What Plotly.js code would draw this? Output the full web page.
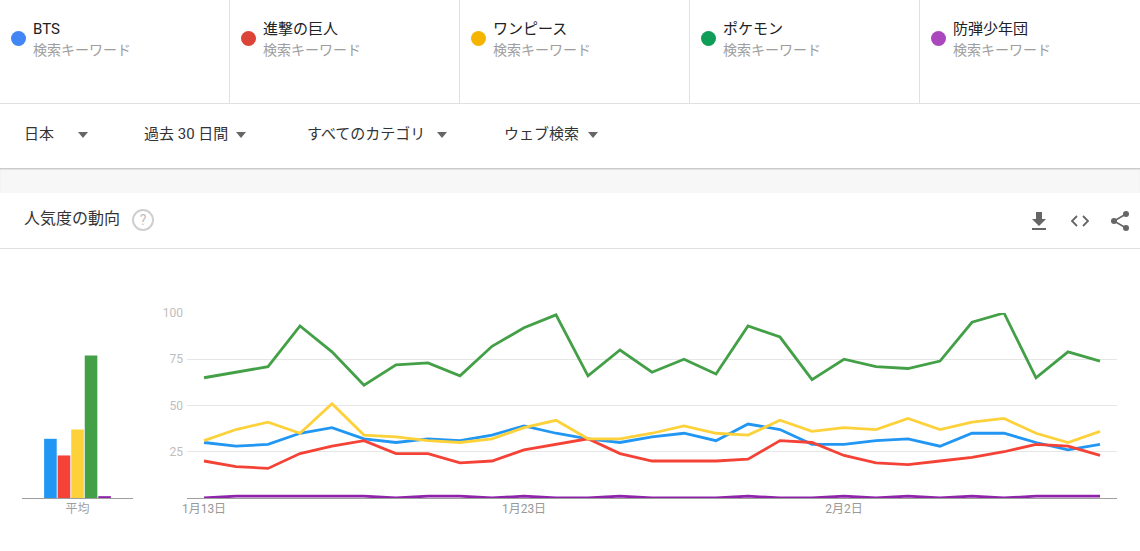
<!DOCTYPE html>
<html><head><meta charset="utf-8">
<script src="https://cdn.plot.ly/plotly-3.0.1.min.js"></script>
<style>
html,body{margin:0;padding:0;width:1140px;height:551px;overflow:hidden;background:#fff;font-family:Roboto,"Noto Sans CJK JP",sans-serif;}
.abs{position:absolute;}
.col{position:absolute;top:0;height:103px;width:230px;}
.sep{position:absolute;top:0;width:1px;height:103px;background:#e0e0e0;}
.dot{position:absolute;left:11px;top:31px;width:15px;height:15px;border-radius:50%;}
.name{position:absolute;left:33px;top:19px;font-size:15px;color:#202124;line-height:20px;white-space:nowrap;}
.sub{position:absolute;left:33px;top:41px;font-size:14px;color:#9e9e9e;line-height:19px;white-space:nowrap;}
.flt{position:absolute;top:124px;font-size:15px;color:#333;line-height:21px;white-space:nowrap;}
.tri{position:absolute;top:132px;width:0;height:0;border-left:5px solid transparent;border-right:5px solid transparent;border-top:6px solid #666;}
#plot{position:absolute;left:0;top:250px;width:1140px;height:301px;}
</style></head><body>
<div class="col" style="left:0"><div class="dot" style="background:#4285f4"></div><div class="name">BTS</div><div class="sub">検索キーワード</div></div>
<div class="col" style="left:230px"><div class="dot" style="background:#db4437"></div><div class="name">進撃の巨人</div><div class="sub">検索キーワード</div></div>
<div class="col" style="left:460px"><div class="dot" style="background:#f4b400"></div><div class="name">ワンピース</div><div class="sub">検索キーワード</div></div>
<div class="col" style="left:690px"><div class="dot" style="background:#0f9d58"></div><div class="name">ポケモン</div><div class="sub">検索キーワード</div></div>
<div class="col" style="left:920px"><div class="dot" style="background:#ab47bc"></div><div class="name">防弾少年団</div><div class="sub">検索キーワード</div></div>
<div class="sep" style="left:229px"></div><div class="sep" style="left:459px"></div><div class="sep" style="left:689px"></div><div class="sep" style="left:919px"></div>
<div class="abs" style="left:0;top:103px;width:1140px;height:1px;background:#e0e0e0"></div>
<div class="flt" style="left:24px">日本</div><div class="tri" style="left:78px"></div>
<div class="flt" style="left:144px">過去 30 日間</div><div class="tri" style="left:236px"></div>
<div class="flt" style="left:307px">すべてのカテゴリ</div><div class="tri" style="left:437px"></div>
<div class="flt" style="left:504px">ウェブ検索</div><div class="tri" style="left:588px"></div>
<div class="abs" style="left:0;top:168px;width:1140px;height:25px;background:#f7f7f7;box-shadow:inset 0 2px 2px -1px rgba(0,0,0,0.25)"></div>
<div class="abs" style="left:24px;top:208px;font-size:16px;color:#333;line-height:22px">人気度の動向</div>
<div class="abs" style="left:132px;top:209px;width:18px;height:18px;border:2px solid #cfcfcf;border-radius:50%;color:#bdbdbd;font-size:14px;line-height:18px;text-align:center">?</div>
<svg class="abs" style="left:1030px;top:210px" width="110" height="22" viewBox="0 0 110 22">
 <path d="M6 2h6v7h4l-7 7-7-7h4z" fill="#666"/><rect x="2" y="18" width="14" height="2" fill="#666"/>
 <path d="M47 6l-5 5 5 5M53 6l5 5-5 5" stroke="#666" stroke-width="1.8" fill="none"/>
 <circle cx="96" cy="4" r="3" fill="#666"/><circle cx="84" cy="11" r="3" fill="#666"/><circle cx="96" cy="18" r="3" fill="#666"/>
 <path d="M96 4L84 11L96 18" stroke="#666" stroke-width="1.6" fill="none"/>
</svg>
<div class="abs" style="left:0;top:248px;width:1140px;height:1px;background:#e0e0e0"></div>
<div id="plot"></div>
<script>
var dates = ["2019-01-13","2019-01-14","2019-01-15","2019-01-16","2019-01-17","2019-01-18","2019-01-19","2019-01-20","2019-01-21","2019-01-22","2019-01-23","2019-01-24","2019-01-25","2019-01-26","2019-01-27","2019-01-28","2019-01-29","2019-01-30","2019-01-31","2019-02-01","2019-02-02","2019-02-03","2019-02-04","2019-02-05","2019-02-06","2019-02-07","2019-02-08","2019-02-09","2019-02-10"];
var names = ["BTS","進撃の巨人","ワンピース","ポケモン","防弾少年団"];
var bts     = [30,28,29,35,38,32,30,32,31,34,39,35,32,30,33,35,31,40,37,29,29,31,32,28,35,35,30,26,29];
var shingeki= [20,17,16,24,28,31,24,24,19,20,26,29,32,24,20,20,20,21,31,30,23,19,18,20,22,25,29,28,23];
var onepiece= [31,37,41,35,51,34,33,31,30,32,38,42,32,32,35,39,35,34,42,36,38,37,43,37,41,43,35,30,36];
var pokemon = [65,68,71,93,79,61,72,73,66,82,92,99,66,80,68,75,67,93,87,64,75,71,70,74,95,100,65,79,74];
var bangtan = [0,1,1,1,1,1,0,1,1,0,1,0,0,1,0,0,0,1,0,0,1,0,1,0,1,0,1,1,1];
var averages = [32,23,37,77,1];
var avgLabel = "平均";
var xTicks = ["2019-01-13","2019-01-23","2019-02-02"];
var xTickText = ["1月13日","1月23日","2月2日"];
var yTicks = [25,50,75,100];

var colors = ["#2196f3","#f44336","#fdd13a","#43a047","#8e24aa"];
var series = [bts,shingeki,onepiece,pokemon,bangtan];
var traces = [];
for (var i=0;i<5;i++){
  traces.push({type:"bar",x:[avgLabel],y:[averages[i]],name:names[i],xaxis:"x",yaxis:"y2",marker:{color:colors[i]},showlegend:false,hoverinfo:"none"});
}
for (var i=0;i<5;i++){
  traces.push({type:"scatter",mode:"lines",x:dates,y:series[i],name:names[i],xaxis:"x2",yaxis:"y",line:{color:colors[i],width:2.8},cliponaxis:false,showlegend:false});
}
var layout = {
  width:1140,height:301,margin:{l:0,r:0,t:63,b:53},
  paper_bgcolor:"#fff",plot_bgcolor:"rgba(0,0,0,0)",
  font:{family:'Roboto, "Noto Sans CJK JP", sans-serif'},
  barmode:"group",bargap:0.39,bargroupgap:0.07,
  xaxis:{domain:[22/1140,133/1140],anchor:"y2",type:"category",showline:true,linecolor:"#9e9e9e",linewidth:1,showgrid:false,ticks:"",tickfont:{size:12,color:"#9e9e9e"},fixedrange:true},
  yaxis2:{domain:[0,1],anchor:"x",range:[0,100],visible:false,fixedrange:true},
  xaxis2:{domain:[187/1140,1117/1140],anchor:"y",type:"date",range:["2019-01-12 11:15","2019-02-10 12:45"],tickvals:xTicks,ticktext:xTickText,showgrid:false,showline:true,linecolor:"#9e9e9e",linewidth:1,ticks:"",tickfont:{size:12,color:"#999"},fixedrange:true},
  yaxis:{domain:[0,1],anchor:"x2",range:[0,100],tickvals:yTicks,showgrid:true,gridcolor:"#e6e6e6",gridwidth:1,zeroline:false,ticks:"",ticklabelstandoff:3,tickfont:{size:12,color:"#bdbdbd"},fixedrange:true}
};
Plotly.newPlot("plot",traces,layout,{displayModeBar:false,staticPlot:true});
</script>
</body></html>
